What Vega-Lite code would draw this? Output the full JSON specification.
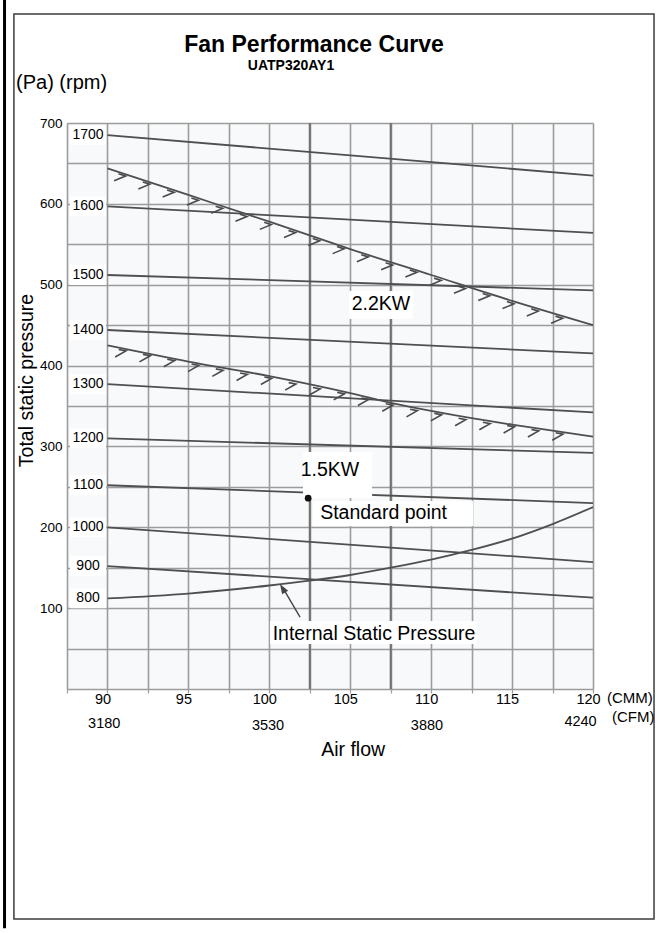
{
  "$schema": "https://vega.github.io/schema/vega-lite/v6.json",
  "width": 526,
  "height": 566,
  "autosize": {"type": "none"},
  "padding": {"left": 67, "top": 123, "right": 69, "bottom": 244},
  "background": "white",
  "config": {
    "view": {"fill": "#f7f9fb", "stroke": null},
    "font": "Liberation Sans",
    "text": {"font": "Liberation Sans", "color": "#000000"},
    "axis": {"labelFont": "Liberation Sans", "titleFont": "Liberation Sans"}
  },
  "datasets": {
    "curves": [
      {"series": "1700 rpm", "cmm": 90, "pa": 685}, {"series": "1700 rpm", "cmm": 120, "pa": 635},
      {"series": "1600 rpm", "cmm": 90, "pa": 597}, {"series": "1600 rpm", "cmm": 120, "pa": 564},
      {"series": "1500 rpm", "cmm": 90, "pa": 512}, {"series": "1500 rpm", "cmm": 120, "pa": 493},
      {"series": "1400 rpm", "cmm": 90, "pa": 444}, {"series": "1400 rpm", "cmm": 120, "pa": 415},
      {"series": "1300 rpm", "cmm": 90, "pa": 377}, {"series": "1300 rpm", "cmm": 120, "pa": 342},
      {"series": "1200 rpm", "cmm": 90, "pa": 310}, {"series": "1200 rpm", "cmm": 120, "pa": 292},
      {"series": "1100 rpm", "cmm": 90, "pa": 252}, {"series": "1100 rpm", "cmm": 120, "pa": 230},
      {"series": "1000 rpm", "cmm": 90, "pa": 200}, {"series": "1000 rpm", "cmm": 120, "pa": 157},
      {"series": "900 rpm", "cmm": 90, "pa": 152}, {"series": "900 rpm", "cmm": 120, "pa": 113},
      {"series": "Internal static pressure", "cmm": 90, "pa": 112},
      {"series": "Internal static pressure", "cmm": 95, "pa": 118},
      {"series": "Internal static pressure", "cmm": 100, "pa": 128},
      {"series": "Internal static pressure", "cmm": 102.5, "pa": 134},
      {"series": "Internal static pressure", "cmm": 105, "pa": 141},
      {"series": "Internal static pressure", "cmm": 107.5, "pa": 150},
      {"series": "Internal static pressure", "cmm": 110, "pa": 160},
      {"series": "Internal static pressure", "cmm": 112.5, "pa": 172},
      {"series": "Internal static pressure", "cmm": 115, "pa": 186},
      {"series": "Internal static pressure", "cmm": 117.5, "pa": 204},
      {"series": "Internal static pressure", "cmm": 120, "pa": 225},
      {"series": "2.2KW", "cmm": 90, "pa": 644},
      {"series": "2.2KW", "cmm": 95, "pa": 611},
      {"series": "2.2KW", "cmm": 100, "pa": 578},
      {"series": "2.2KW", "cmm": 105, "pa": 544},
      {"series": "2.2KW", "cmm": 110, "pa": 512},
      {"series": "2.2KW", "cmm": 115, "pa": 480},
      {"series": "2.2KW", "cmm": 120, "pa": 450},
      {"series": "1.5KW", "cmm": 90, "pa": 425},
      {"series": "1.5KW", "cmm": 95, "pa": 405},
      {"series": "1.5KW", "cmm": 100, "pa": 387},
      {"series": "1.5KW", "cmm": 105, "pa": 366},
      {"series": "1.5KW", "cmm": 107.5, "pa": 354},
      {"series": "1.5KW", "cmm": 110, "pa": 344},
      {"series": "1.5KW", "cmm": 112.5, "pa": 335},
      {"series": "1.5KW", "cmm": 115, "pa": 327},
      {"series": "1.5KW", "cmm": 120, "pa": 312}
    ],
    "hatch": [
      {"series": "2.2KW", "cmm": 90.8, "pa": 639}, {"series": "2.2KW", "cmm": 92.3, "pa": 629},
      {"series": "2.2KW", "cmm": 93.8, "pa": 619}, {"series": "2.2KW", "cmm": 95.3, "pa": 609},
      {"series": "2.2KW", "cmm": 96.8, "pa": 599}, {"series": "2.2KW", "cmm": 98.3, "pa": 589},
      {"series": "2.2KW", "cmm": 99.8, "pa": 579}, {"series": "2.2KW", "cmm": 101.3, "pa": 569},
      {"series": "2.2KW", "cmm": 102.8, "pa": 559}, {"series": "2.2KW", "cmm": 104.3, "pa": 549},
      {"series": "2.2KW", "cmm": 105.8, "pa": 539}, {"series": "2.2KW", "cmm": 107.3, "pa": 529},
      {"series": "2.2KW", "cmm": 108.8, "pa": 520}, {"series": "2.2KW", "cmm": 110.3, "pa": 510},
      {"series": "2.2KW", "cmm": 111.8, "pa": 500}, {"series": "2.2KW", "cmm": 113.3, "pa": 491},
      {"series": "2.2KW", "cmm": 114.8, "pa": 481}, {"series": "2.2KW", "cmm": 116.3, "pa": 472},
      {"series": "2.2KW", "cmm": 117.8, "pa": 463},
      {"series": "1.5KW", "cmm": 90.8, "pa": 422}, {"series": "1.5KW", "cmm": 92.3, "pa": 416},
      {"series": "1.5KW", "cmm": 93.8, "pa": 410}, {"series": "1.5KW", "cmm": 95.3, "pa": 404},
      {"series": "1.5KW", "cmm": 96.8, "pa": 398}, {"series": "1.5KW", "cmm": 98.3, "pa": 393},
      {"series": "1.5KW", "cmm": 99.8, "pa": 388}, {"series": "1.5KW", "cmm": 101.3, "pa": 381},
      {"series": "1.5KW", "cmm": 102.8, "pa": 375}, {"series": "1.5KW", "cmm": 104.3, "pa": 369},
      {"series": "1.5KW", "cmm": 105.8, "pa": 362}, {"series": "1.5KW", "cmm": 107.3, "pa": 355},
      {"series": "1.5KW", "cmm": 108.8, "pa": 348}, {"series": "1.5KW", "cmm": 110.3, "pa": 343},
      {"series": "1.5KW", "cmm": 111.8, "pa": 337}, {"series": "1.5KW", "cmm": 113.3, "pa": 332},
      {"series": "1.5KW", "cmm": 114.8, "pa": 328}, {"series": "1.5KW", "cmm": 116.3, "pa": 323},
      {"series": "1.5KW", "cmm": 117.8, "pa": 319}
    ],
    "rpmLabels": [
      {"rpm": "1700", "cmm": 88.8, "pa": 685}, {"rpm": "1600", "cmm": 88.8, "pa": 597},
      {"rpm": "1500", "cmm": 88.8, "pa": 512}, {"rpm": "1400", "cmm": 88.8, "pa": 444},
      {"rpm": "1300", "cmm": 88.8, "pa": 377}, {"rpm": "1200", "cmm": 88.8, "pa": 310},
      {"rpm": "1100", "cmm": 88.8, "pa": 252}, {"rpm": "1000", "cmm": 88.8, "pa": 200},
      {"rpm": "900", "cmm": 88.8, "pa": 152}, {"rpm": "800", "cmm": 88.8, "pa": 112}
    ],
    "darkGrid": [
      {"cmm": 102.5, "pa": 0, "pa2": 700},
      {"cmm": 107.5, "pa": 0, "pa2": 700}
    ],
    "noteBoxes": [
      {"note": "2.2KW", "cmm": 104.92, "cmm2": 108.88, "pa": 492.2, "pa2": 457.6},
      {"note": "1.5KW", "cmm": 102.08, "cmm2": 106.35, "pa": 293.1, "pa2": 236.2},
      {"note": "Standard point", "cmm": 102.7, "cmm2": 112.59, "pa": 232.5, "pa2": 201.6},
      {"note": "Internal Static Pressure", "cmm": 100.04, "cmm2": 112.83, "pa": 84.1, "pa2": 55.7}
    ],
    "notes": [
      {"label": "2.2KW", "cmm": 106.9, "pa": 476.7},
      {"label": "1.5KW", "cmm": 103.75, "pa": 270.8},
      {"label": "Standard point", "cmm": 107.06, "pa": 217.7},
      {"label": "Internal Static Pressure", "cmm": 106.47, "pa": 68.6}
    ],
    "arrow": [{"cmm": 101.9, "pa": 89, "cmm2": 100.9, "pa2": 123}],
    "arrowTip": [{"cmm": 100.66, "pa": 130}],
    "frame": [{"cmm": 84.22, "cmm2": 123.77, "pa": 834.8, "pa2": -284.4}],
    "edge": [{"cmm": 83.64, "pa": 852, "pa2": -296}],
    "heading": [{"label": "Fan Performance Curve", "cmm": 102.76, "pa": 787.8}],
    "model": [{"label": "UATP320AY1", "cmm": 101.34, "pa": 765.6}],
    "units": [
      {"label": "(Pa) (rpm)", "cmm": 84.35, "pa": 742}
    ],
    "flowUnits": [
      {"label": "(CMM)", "cmm": 120.86, "pa": -17.3},
      {"label": "(CFM)", "cmm": 121.17, "pa": -40.8}
    ],
    "cfm": [
      {"label": "3180", "cmm": 89.8, "pa": -48.2},
      {"label": "3530", "cmm": 99.92, "pa": -50.7},
      {"label": "3880", "cmm": 109.74, "pa": -50.7},
      {"label": "4240", "cmm": 119.23, "pa": -45.8}
    ],
    "standard": [{"cmm": 102.4, "pa": 236}]
  },
  "encoding": {
    "x": {
      "field": "cmm", "type": "quantitative",
      "scale": {"domain": [87.5, 120], "nice": false, "zero": false},
      "axis": {
        "title": "Air flow",
        "values": [87.5, 90, 92.5, 95, 97.5, 100, 102.5, 105, 107.5, 110, 112.5, 115, 117.5, 120],
        "format": "d",
        "labelExpr": "datum.value % 5 === 0 ? datum.label : ''",
        "grid": true, "gridColor": "#9c9c9c", "gridWidth": 1.6, "gridOpacity": 1,
        "domain": false, "ticks": true, "tickColor": "#9c9c9c", "tickSize": 4, "tickWidth": 1.2,
        "labelFontSize": 14.5, "labelColor": "#000000", "labelBaseline": "alphabetic", "labelPadding": 10,
        "labelOffset": -5, "labelFlush": false, "labelOverlap": false,
        "titleFontSize": 19.5, "titleFontWeight": "normal", "titleColor": "#000000",
        "titleX": 285.6, "titleY": 66, "titleBaseline": "alphabetic", "titleAlign": "center"
      }
    },
    "y": {
      "field": "pa", "type": "quantitative",
      "scale": {"domain": [0, 700], "nice": false, "zero": false},
      "axis": {
        "title": "Total static pressure",
        "values": [0, 50, 100, 150, 200, 250, 300, 350, 400, 450, 500, 550, 600, 650, 700],
        "labelExpr": "datum.value % 100 === 0 && datum.value > 0 ? datum.label : ''",
        "grid": true, "gridColor": "#9c9c9c", "gridWidth": 1.6, "gridOpacity": 1,
        "domain": false, "ticks": false, "tickSize": 0,
        "labelFontSize": 13.5, "labelColor": "#000000", "labelPadding": 5, "labelBaseline": "middle",
        "labelFlush": false, "labelOverlap": false,
        "titleFontSize": 19.5, "titleFontWeight": "normal", "titleColor": "#000000",
        "titleX": -35, "titleY": 257, "titleAngle": 270, "titleAlign": "center", "titleBaseline": "alphabetic"
      }
    }
  },
  "layer": [
    {
      "data": {"name": "darkGrid"},
      "mark": {"type": "rule", "color": "#707070", "strokeWidth": 2},
      "encoding": {"y2": {"field": "pa2"}}
    },
    {
      "data": {"name": "curves"},
      "mark": {"type": "line", "color": "#4f4f4f", "strokeWidth": 1.8, "interpolate": "monotone"},
      "encoding": {"detail": {"field": "series"}, "order": {"field": "cmm"}}
    },
    {
      "data": {"name": "hatch"},
      "transform": [{"filter": "datum.series === '2.2KW'"}],
      "mark": {"type": "point", "shape": "M-0.2,0.3L0.9,0.3L-0.5,1.5", "filled": false, "color": "#4a4a4a", "strokeWidth": 1.6, "size": 180, "angle": 18, "opacity": 1}
    },
    {
      "data": {"name": "hatch"},
      "transform": [{"filter": "datum.series === '1.5KW'"}],
      "mark": {"type": "point", "shape": "M-0.2,0.3L0.9,0.3L-0.5,1.5", "filled": false, "color": "#4a4a4a", "strokeWidth": 1.6, "size": 180, "angle": 11, "opacity": 1}
    },
    {
      "data": {"name": "rpmLabels"},
      "mark": {"type": "point", "shape": "M-1,-0.55H1V0.55H-1Z", "filled": true, "color": "#ffffff", "strokeWidth": 0, "size": 1296, "opacity": 1}
    },
    {
      "data": {"name": "rpmLabels"},
      "mark": {"type": "text", "fontSize": 14, "align": "center", "baseline": "middle", "color": "#000000"},
      "encoding": {"text": {"field": "rpm"}}
    },
    {
      "data": {"name": "noteBoxes"},
      "mark": {"type": "rect", "color": "#ffffff", "opacity": 1},
      "encoding": {"x2": {"field": "cmm2"}, "y2": {"field": "pa2"}}
    },
    {
      "data": {"name": "notes"},
      "mark": {"type": "text", "fontSize": 19.5, "align": "center", "baseline": "middle", "color": "#000000"},
      "encoding": {"text": {"field": "label"}}
    },
    {
      "data": {"name": "standard"},
      "mark": {"type": "circle", "size": 45, "color": "#111111", "opacity": 1}
    },
    {
      "data": {"name": "arrow"},
      "mark": {"type": "rule", "color": "#444444", "strokeWidth": 1.4},
      "encoding": {"x2": {"field": "cmm2"}, "y2": {"field": "pa2"}}
    },
    {
      "data": {"name": "arrowTip"},
      "mark": {"type": "point", "shape": "M0,0L-0.35,1L0.35,1Z", "filled": true, "color": "#444444", "size": 400, "angle": -31, "opacity": 1}
    },
    {
      "data": {"name": "frame"},
      "mark": {"type": "rect", "filled": false, "color": "#3c3c3c", "strokeWidth": 1.5},
      "encoding": {"x2": {"field": "cmm2"}, "y2": {"field": "pa2"}}
    },
    {
      "data": {"name": "edge"},
      "mark": {"type": "rule", "color": "#000000", "strokeWidth": 3},
      "encoding": {"y2": {"field": "pa2"}}
    },
    {
      "data": {"name": "heading"},
      "mark": {"type": "text", "fontSize": 23, "fontWeight": "bold", "align": "center", "baseline": "alphabetic", "color": "#000000"},
      "encoding": {"text": {"field": "label"}}
    },
    {
      "data": {"name": "model"},
      "mark": {"type": "text", "fontSize": 14, "fontWeight": "bold", "align": "center", "baseline": "alphabetic", "color": "#000000"},
      "encoding": {"text": {"field": "label"}}
    },
    {
      "data": {"name": "units"},
      "mark": {"type": "text", "fontSize": 20, "align": "left", "baseline": "alphabetic", "color": "#000000"},
      "encoding": {"text": {"field": "label"}}
    },
    {
      "data": {"name": "flowUnits"},
      "mark": {"type": "text", "fontSize": 15, "align": "left", "baseline": "alphabetic", "color": "#000000"},
      "encoding": {"text": {"field": "label"}}
    },
    {
      "data": {"name": "cfm"},
      "mark": {"type": "text", "fontSize": 14.5, "align": "center", "baseline": "alphabetic", "color": "#000000"},
      "encoding": {"text": {"field": "label"}}
    }
  ]
}
